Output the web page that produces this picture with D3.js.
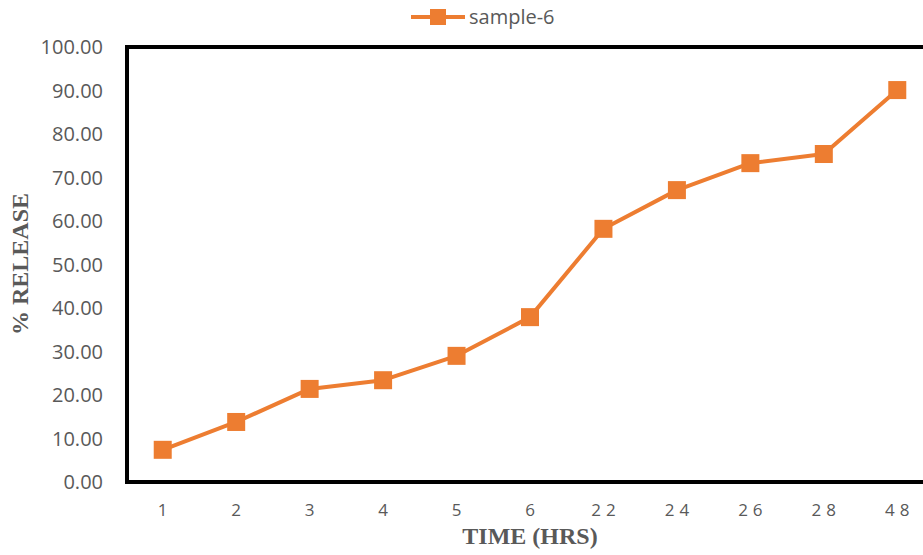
<!DOCTYPE html>
<html>
<head>
<meta charset="utf-8">
<script src="https://cdn.jsdelivr.net/npm/d3@7"></script>
<style>
  body { margin: 0; background: #fff; }
  svg { display: block; }
</style>
</head>
<body>
<div id="chart"></div>
<script>
var categories = ["1", "2", "3", "4", "5", "6", "22", "24", "26", "28", "48"];
var release = [7.4, 13.8, 21.4, 23.4, 29.0, 37.9, 58.2, 67.1, 73.3, 75.4, 90.1];
var yTicks = [0, 10, 20, 30, 40, 50, 60, 70, 80, 90, 100];
var seriesName = "sample-6";

var width = 923, height = 555;
var margin = { top: 47, right: -11, bottom: 73, left: 127 };
var color = "#ED7D31";
var textColor = "#595959";

var svg = d3.select("#chart")
  .append("svg")
  .attr("width", width)
  .attr("height", height);

var x = d3.scaleBand()
  .domain(categories)
  .range([margin.left - 1, width - margin.right]);

var y = d3.scaleLinear()
  .domain([0, 100])
  .range([height - margin.bottom, margin.top]);

// y tick labels
svg.append("g")
  .selectAll("text")
  .data(yTicks)
  .enter()
  .append("text")
  .attr("x", 103)
  .attr("y", function(d) { return y(d); })
  .attr("dy", "0.36em")
  .attr("text-anchor", "end")
  .style("font-family", "'Open Sans', sans-serif")
  .style("font-size", "20px")
  .style("fill", textColor)
  .text(function(d) { return d.toFixed(2); });

// x tick labels (two-digit labels are spaced out)
svg.append("g")
  .selectAll("text")
  .data(categories)
  .enter()
  .append("text")
  .attr("x", function(d) { return x(d) + x.bandwidth() / 2; })
  .attr("dx", function(d) { return d.length > 1 ? 2.5 : 0; })
  .attr("y", 510)
  .attr("dy", "0.36em")
  .attr("text-anchor", "middle")
  .style("font-family", "'Open Sans', sans-serif")
  .style("font-size", "17px")
  .style("letter-spacing", function(d) { return d.length > 1 ? "5px" : "0px"; })
  .style("fill", textColor)
  .text(function(d) { return d; });

// plot frame
svg.append("rect")
  .attr("x", margin.left)
  .attr("y", margin.top)
  .attr("width", width + 20 - margin.left)
  .attr("height", y(0) - margin.top)
  .style("fill", "none")
  .style("stroke", "#000")
  .style("stroke-width", "4px");

// series line
var line = d3.line()
  .x(function(d, i) { return x(categories[i]) + x.bandwidth() / 2; })
  .y(function(d) { return y(d); });

svg.append("path")
  .datum(release)
  .attr("d", line)
  .style("fill", "none")
  .style("stroke", color)
  .style("stroke-width", "4px")
  .style("stroke-linejoin", "round");

var m = 18;
svg.append("g")
  .selectAll("rect")
  .data(release)
  .enter()
  .append("rect")
  .attr("x", function(d, i) { return x(categories[i]) + x.bandwidth() / 2 - m / 2; })
  .attr("y", function(d) { return y(d) - m / 2; })
  .attr("width", m)
  .attr("height", m)
  .style("fill", color);

// legend
var legend = svg.append("g").attr("transform", "translate(411,17)");
legend.append("line")
  .attr("x1", 0).attr("x2", 54)
  .attr("y1", 0).attr("y2", 0)
  .style("stroke", color)
  .style("stroke-width", "4px");
legend.append("rect")
  .attr("x", 19).attr("y", -8)
  .attr("width", 16).attr("height", 16)
  .style("fill", color);
legend.append("text")
  .attr("x", 58)
  .attr("y", 0)
  .attr("dy", "0.36em")
  .style("font-family", "'Open Sans', sans-serif")
  .style("font-size", "20px")
  .style("fill", textColor)
  .text(seriesName);

// axis titles
svg.append("text")
  .attr("x", 530)
  .attr("y", 544)
  .attr("text-anchor", "middle")
  .style("font-family", "'Liberation Serif', 'Times New Roman', serif")
  .style("font-weight", "bold")
  .style("font-size", "24px")
  .style("fill", textColor)
  .text("TIME (HRS)");

svg.append("text")
  .attr("transform", "translate(28,264) rotate(-90)")
  .attr("text-anchor", "middle")
  .style("font-family", "'Liberation Serif', 'Times New Roman', serif")
  .style("font-weight", "bold")
  .style("font-size", "24px")
  .style("fill", textColor)
  .text("% RELEASE");
</script>
</body>
</html>
